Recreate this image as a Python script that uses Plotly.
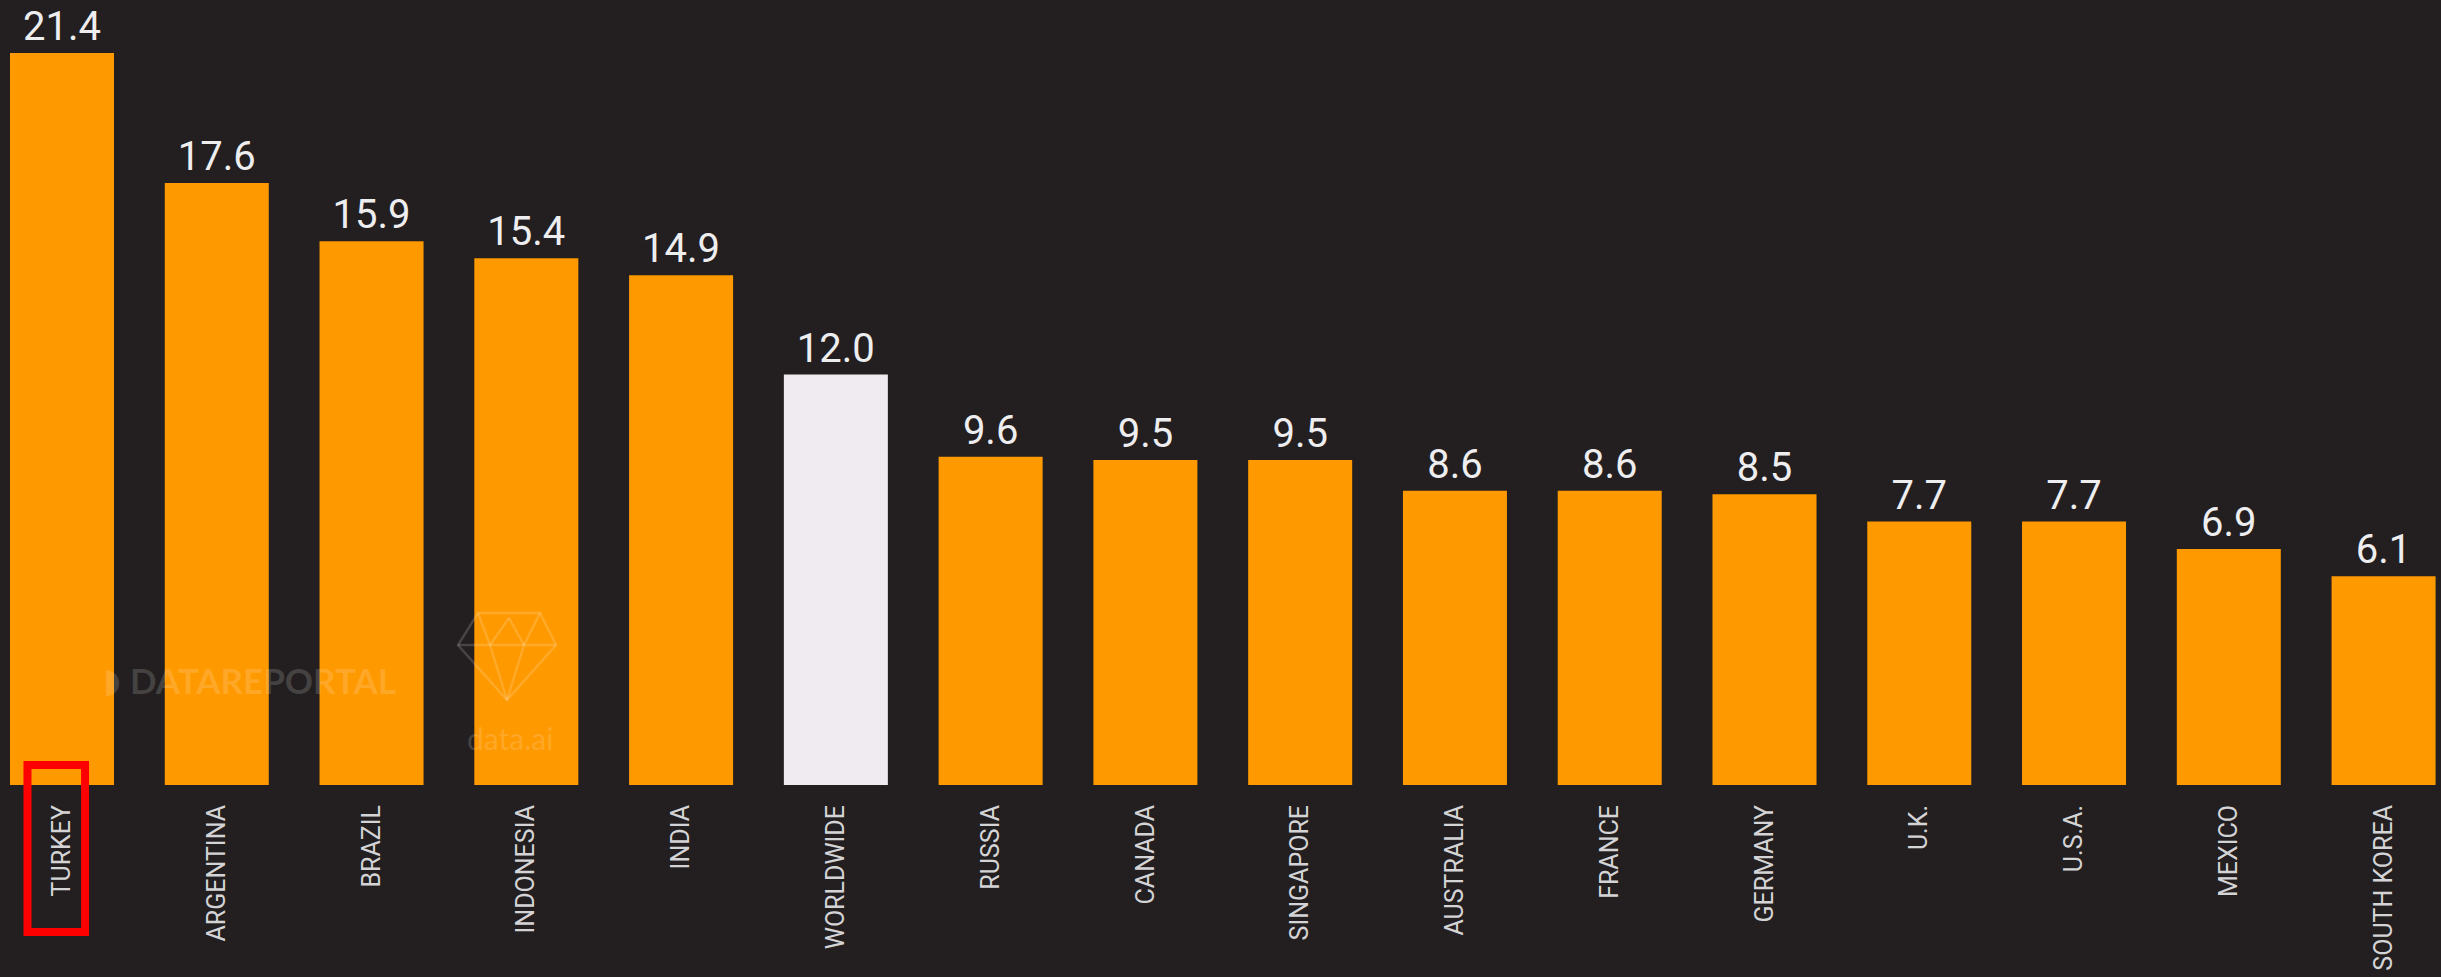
import plotly.graph_objects as go

# Share of time online (%) by market, worldwide average highlighted
countries = ["TURKEY", "ARGENTINA", "BRAZIL", "INDONESIA", "INDIA", "WORLDWIDE",
             "RUSSIA", "CANADA", "SINGAPORE", "AUSTRALIA", "FRANCE", "GERMANY",
             "U.K.", "U.S.A.", "MEXICO", "SOUTH KOREA"]
values = [21.4, 17.6, 15.9, 15.4, 14.9, 12.0, 9.6, 9.5, 9.5, 8.6, 8.6, 8.5,
          7.7, 7.7, 6.9, 6.1]
highlight = "WORLDWIDE"

BG = "#231f20"
ORANGE = "#ff9900"
WHITE_BAR = "#efebf1"

W, H = 2441, 977
PLOT_BOTTOM = 785  # pixel row of the bar baseline

bar_colors = [WHITE_BAR if c == highlight else ORANGE for c in countries]
labels = [f"{v:.1f}" for v in values]

fig = go.Figure(
    go.Bar(
        x=countries,
        y=values,
        marker=dict(color=bar_colors, line=dict(width=0)),
        text=labels,
        textposition="outside",
        cliponaxis=False,
        textfont=dict(family="Roboto", size=40, color="#eeeef0"),
        hoverinfo="skip",
    )
)

fig.update_layout(
    width=W,
    height=H,
    margin=dict(l=0, r=0, t=0, b=H - PLOT_BOTTOM, autoexpand=False),
    paper_bgcolor=BG,
    plot_bgcolor=BG,
    bargap=0.328,
    showlegend=False,
    xaxis=dict(
        range=[-0.4006, 15.371],
        automargin=False,
        showgrid=False,
        zeroline=False,
        showline=False,
        ticks="",
        tickangle=-90,
        ticklabelstandoff=14,
        tickfont=dict(family="Roboto", size=25, color="#d4d4d6"),
        fixedrange=True,
    ),
    yaxis=dict(
        range=[0, 22.95],
        visible=False,
        automargin=False,
        fixedrange=True,
    ),
)


def px(x, y):
    """Convert a pixel position on the page into paper coordinates."""
    return x / W, (PLOT_BOTTOM - y) / PLOT_BOTTOM


# Faint source watermarks across the first bars
wm_color = "rgba(255,255,255,0.16)"
x, y = px(263, 680)
fig.add_annotation(
    text="<b>DATAREPORTAL</b>", xref="paper", yref="paper", x=x, y=y,
    xanchor="center", yanchor="middle", showarrow=False,
    font=dict(family="Lato", size=35, color=wm_color),
)
x, y = px(112, 680)
fig.add_annotation(
    text="<b>◗</b>", xref="paper", yref="paper", x=x, y=y,
    xanchor="center", yanchor="middle", showarrow=False,
    font=dict(family="DejaVu Sans", size=34, color=wm_color),
)
x, y = px(510, 738)
fig.add_annotation(
    text="data.ai", xref="paper", yref="paper", x=x, y=y,
    xanchor="center", yanchor="middle", showarrow=False,
    font=dict(family="Lato", size=30, color=wm_color),
)

# Diamond logo outline with its facets
pts = [(478, 613), (540, 613), (556, 645), (507, 700), (458, 645)]
outline = "M " + " L ".join(f"{px(a, b)[0]},{px(a, b)[1]}" for a, b in pts) + " Z"
facets = [((458, 645), (556, 645)), ((478, 613), (490, 645)), ((540, 613), (524, 645)),
          ((490, 645), (507, 700)), ((524, 645), (507, 700)), ((490, 645), (509, 618)),
          ((524, 645), (509, 618))]
for (a, b), (c, d) in facets:
    x0, y0 = px(a, b)
    x1, y1 = px(c, d)
    fig.add_shape(type="line", xref="paper", yref="paper", x0=x0, y0=y0, x1=x1, y1=y1,
                  line=dict(color=wm_color, width=2.5))
fig.add_shape(type="path", xref="paper", yref="paper", path=outline,
              line=dict(color=wm_color, width=2.5), fillcolor="rgba(0,0,0,0)")

# Red outline around the first category label
fig.add_shape(
    type="rect", xref="x", yref="paper",
    x0=-0.223, x1=0.149, y0=px(0, 765)[1], y1=px(0, 932)[1],
    line=dict(color="#ff0000", width=8), fillcolor="rgba(0,0,0,0)",
)

fig.write_html("out.html")
